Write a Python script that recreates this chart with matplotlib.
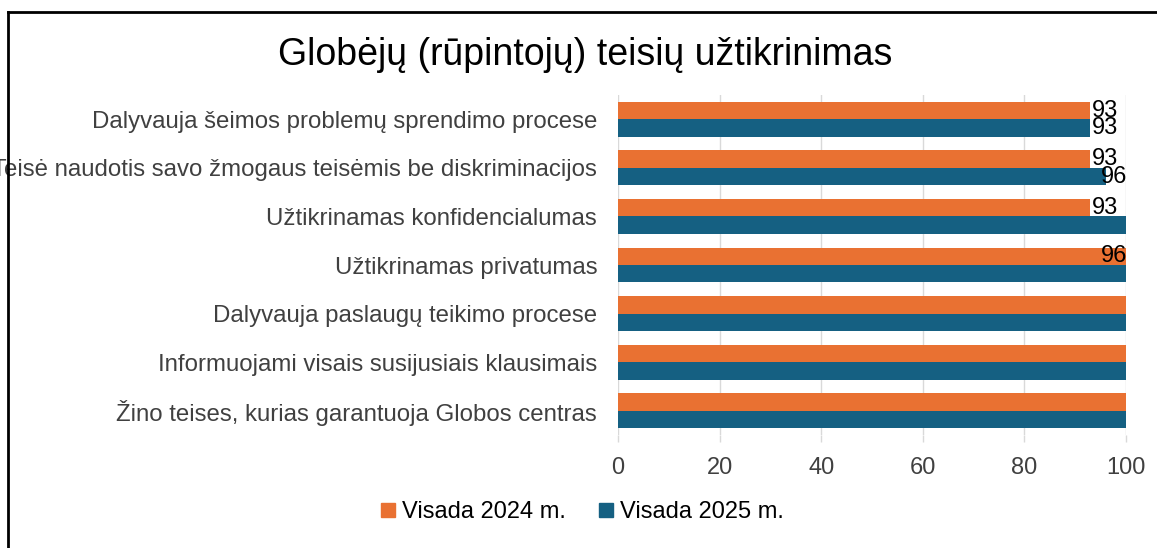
import matplotlib
matplotlib.use("Agg")
import matplotlib.pyplot as plt
from matplotlib.lines import Line2D
import numpy as np

plt.rcParams['font.family'] = ['Liberation Sans', 'DejaVu Sans']

title = "Globėjų (rūpintojų) teisių užtikrinimas"
categories = [
    "Dalyvauja šeimos problemų sprendimo procese",
    "Teisė naudotis savo žmogaus teisėmis be diskriminacijos",
    "Užtikrinamas konfidencialumas",
    "Užtikrinamas privatumas",
    "Dalyvauja paslaugų teikimo procese",
    "Informuojami visais susijusiais klausimais",
    "Žino teises, kurias garantuoja Globos centras",
]
series_names = ["Visada 2024 m.", "Visada 2025 m."]
values_2024 = [93, 93, 93, 100, 100, 100, 100]
values_2025 = [93, 96, 100, 100, 100, 100, 100]
labels_2024 = ["93", "93", "93", "96", "", "", ""]
labels_2025 = ["93", "96", "", "", "", "", ""]
xticks = [0, 20, 40, 60, 80, 100]

c_orange = "#E97132"
c_blue = "#156082"
c_grid = "#D9D9D9"
c_text = "#404040"
fs = 17
fs_cat = 17.3

W, H = 1157, 548
fig = plt.figure(figsize=(W / 100, H / 100), dpi=100)
ax = fig.add_axes([618 / W, 1 - 435 / H, (1126 - 618) / W, (435 - 95) / H])

n = len(categories)
y = np.arange(n)
bh = 0.36
ax.barh(y - bh / 2, values_2024, height=bh, color=c_orange, zorder=3)
ax.barh(y + bh / 2, values_2025, height=bh, color=c_blue, zorder=3)

ax.set_ylim(n - 0.5, -0.5)
ax.set_xlim(0, 100)
ax.set_yticks(y)
ax.set_yticklabels(categories, fontsize=fs_cat, color=c_text)
ax.tick_params(axis='y', length=0, pad=15)
ax.set_xticks(xticks)
ax.set_xticklabels([str(t) for t in xticks], fontsize=fs, color=c_text)
ax.tick_params(axis='x', length=5, color=c_grid, width=1, pad=11)
ax.grid(axis='x', color=c_grid, linewidth=1, zorder=0)
for s in ax.spines.values():
    s.set_visible(False)

def add_labels(vals, labs, offset):
    for i, (v, lab) in enumerate(zip(vals, labs)):
        if not lab:
            continue
        yy = i + offset
        if v >= 95 or int(lab) >= 95:
            ax.text(100.2, yy, lab, ha='right', va='center', fontsize=fs,
                    color='black', zorder=5, clip_on=False)
        else:
            ax.text(v + 0.2, yy, lab, ha='left', va='center', fontsize=fs,
                    color='black', zorder=5, clip_on=False)

add_labels(values_2024, labels_2024, -bh / 2)
add_labels(values_2025, labels_2025, bh / 2)

fig.text(585 / W, 1 - 55 / H, title, ha='center', va='center', fontsize=27, color='black')

handles = [Line2D([], [], marker='s', linestyle='none', markersize=10, color=c_orange),
           Line2D([], [], marker='s', linestyle='none', markersize=10, color=c_blue)]
fig.legend(handles, series_names, loc='center', bbox_to_anchor=(580 / W, 1 - 512 / H),
           ncol=2, frameon=False, fontsize=fs, handletextpad=0.1, columnspacing=1.2,
           handlelength=1.0, labelcolor='black')

# outer frame (left and top edges visible)
fig.add_artist(Line2D([8 / W, 8 / W], [0, 1 - 12 / H], color='black', linewidth=2,
                      transform=fig.transFigure))
fig.add_artist(Line2D([8 / W, 1], [1 - 12 / H, 1 - 12 / H], color='black', linewidth=2,
                      transform=fig.transFigure))

fig.savefig("out.png", dpi=100, facecolor='white')
